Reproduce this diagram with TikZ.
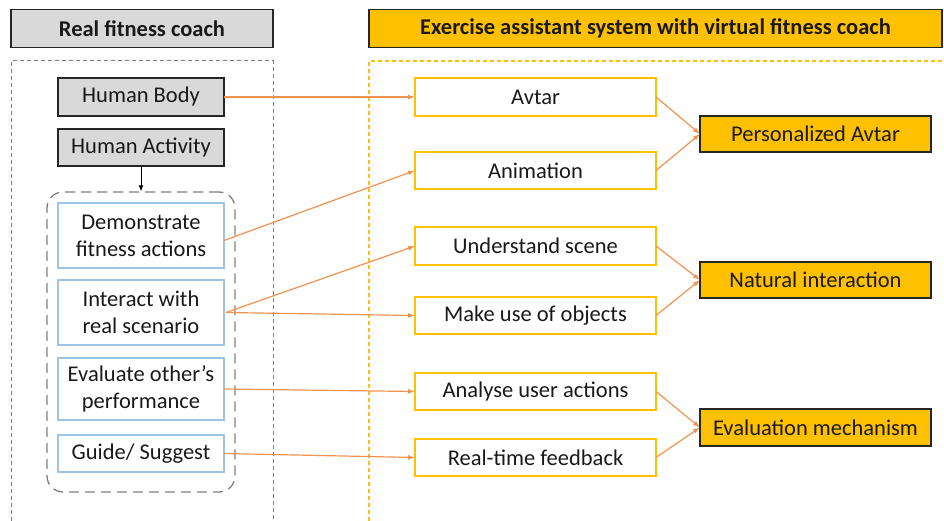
\documentclass[tikz,border=0pt]{standalone}
\usepackage{fontspec}
\setmainfont{Carlito}
\usetikzlibrary{arrows.meta,calc}

\definecolor{gfill}{HTML}{D9D9D9}
\definecolor{gold}{HTML}{FFC000}
\definecolor{edge}{HTML}{262626}
\definecolor{lblue}{HTML}{9DC3E6}
\definecolor{dgray}{HTML}{7F7F7F}
\definecolor{link}{HTML}{F29250}

\tikzset{
  box/.style={draw, inner sep=0pt, outer sep=0pt, align=center,
    font=\fontsize{22.5}{27}\selectfont, text=black!90},
  titlegray/.style={box, fill=gfill, draw=edge, line width=1.4pt,
    font=\fontsize{22.5}{27}\selectfont\bfseries},
  titlegold/.style={box, fill=gold, draw=edge, line width=1.4pt,
    font=\fontsize{22.5}{27}\selectfont\bfseries},
  graybox/.style={box, fill=gfill, draw=edge, line width=1.3pt},
  bluebox/.style={box, draw=lblue, line width=1.2pt},
  yellowbox/.style={box, draw=gold, line width=1.4pt},
  goldbox/.style={box, fill=gold, draw=edge, line width=1.4pt},
  groupbox/.style={draw=dgray, line width=1.3pt, rounded corners=16pt,
    dash pattern=on 10pt off 6pt, inner sep=0pt},
  link/.style={draw=link, line width=1.2pt,
    -{Latex[length=7pt,width=5pt]}},
}

\begin{document}
\begin{tikzpicture}[x=1pt, y=-1pt]
  \useasboundingbox (0,0) rectangle (944,521);

  % column headings
  \node[titlegray, minimum width=262pt, minimum height=38pt] (realT) at (142,28.5) {Real fitness coach};
  \node[titlegold, minimum width=573pt, minimum height=38pt] (virtT) at (655.5,28.5) {Exercise assistant system with virtual fitness coach};

  % column frames (open at the bottom edge)
  \draw[dgray, line width=1pt, dash pattern=on 4pt off 3pt]
    (11,521) -- (11,61) -- (273,61) -- (273,521);
  \draw[gold, line width=1.2pt, dash pattern=on 4pt off 3pt]
    (369,521) -- (369,61) -- (944,61);

  % real coach side
  \node[graybox, minimum width=166pt, minimum height=38pt] (body) at (141,97) {Human Body};
  \node[graybox, minimum width=166pt, minimum height=37pt] (activity) at (141,147.5) {Human Activity};
  \node[groupbox, minimum width=188pt, minimum height=300pt] (group) at (141,342) {};
  \node[bluebox, minimum width=166pt, minimum height=65pt] (demo) at (141,235.5) {Demonstrate\\fitness actions};
  \node[bluebox, minimum width=166pt, minimum height=65pt] (interact) at (141,312.5) {Interact with\\real scenario};
  \node[bluebox, minimum width=166pt, minimum height=62pt] (evaluate) at (141,389) {Evaluate other’s\\performance};
  \node[bluebox, minimum width=166pt, minimum height=37pt] (guide) at (141,453.5) {Guide/ Suggest};

  \draw[black, line width=1pt, -{Latex[length=6pt,width=5pt]}] (activity.south) -- (group.north);

  % virtual coach side
  \node[yellowbox, minimum width=241pt, minimum height=38pt] (avtar) at (535.5,97) {Avtar};
  \node[yellowbox, minimum width=241pt, minimum height=37pt] (anim) at (535.5,170.5) {Animation};
  \node[yellowbox, minimum width=241pt, minimum height=38pt] (scene) at (535.5,246) {Understand scene};
  \node[yellowbox, minimum width=241pt, minimum height=37pt] (objects) at (535.5,315.5) {Make use of objects};
  \node[yellowbox, minimum width=241pt, minimum height=37pt] (analyse) at (535.5,391.5) {Analyse user actions};
  \node[yellowbox, minimum width=241pt, minimum height=37pt] (feedback) at (535.5,457.5) {Real-time feedback};

  \node[goldbox, minimum width=231pt, minimum height=36pt] (pers) at (815.5,134) {Personalized Avtar};
  \node[goldbox, minimum width=231pt, minimum height=36pt] (natural) at (815.5,280) {Natural interaction};
  \node[goldbox, minimum width=231pt, minimum height=37pt] (evalm) at (815.5,427.5) {Evaluation mechanism};

  % mapping from the real coach to the system
  \draw[link] (body.east) -- (avtar.west);
  \draw[link] ($(demo.east)+(0,5)$) -- (anim.west);
  \draw[link] ($(interact.east)+(2,0)$) -- (scene.west);
  \draw[link] ($(interact.east)+(2,0)$) -- (objects.west);
  \draw[link] (evaluate.east) -- (analyse.west);
  \draw[link] (guide.east) -- (feedback.west);

  % grouping into system features
  \draw[link] (avtar.east) -- (pers.west);
  \draw[link] (anim.east) -- (pers.west);
  \draw[link] (scene.east) -- (natural.west);
  \draw[link] (objects.east) -- (natural.west);
  \draw[link] (analyse.east) -- (evalm.west);
  \draw[link] (feedback.east) -- (evalm.west);
\end{tikzpicture}
\end{document}
